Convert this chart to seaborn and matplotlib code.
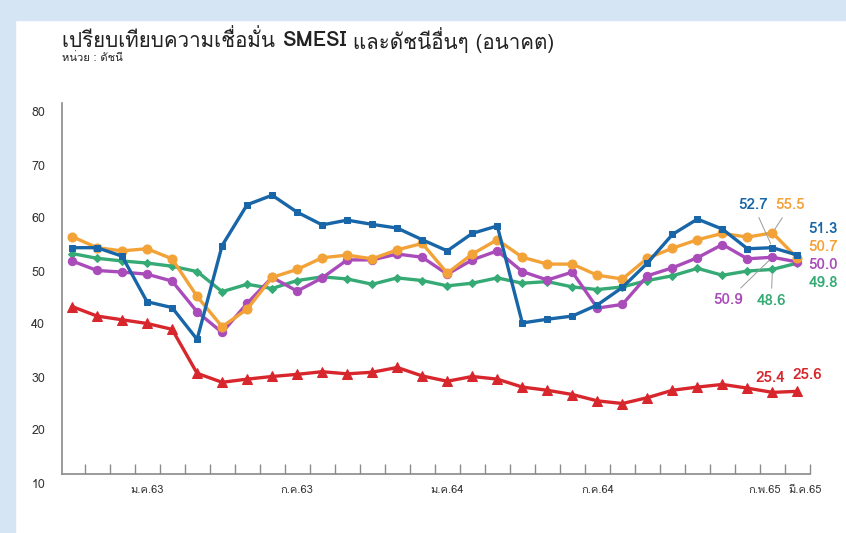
import numpy as np
import pandas as pd
import matplotlib
matplotlib.use("Agg")
import matplotlib.pyplot as plt
import matplotlib.transforms as mtransforms
from matplotlib import font_manager
from matplotlib.ft2font import FT2Font
from matplotlib.patches import Rectangle
import seaborn as sns

# data: Oct 2019 (ต.ค.62) .. Mar 2022 (มี.ค.65), one point per month
months = list(range(30))
smesi = [52.7, 52.7, 51.1, 42.5, 41.4, 35.4, 53.1, 60.8, 62.6, 59.4,
         57.0, 57.9, 57.1, 56.4, 54.2, 52.1, 55.4, 56.8, 38.5, 39.2,
         39.8, 41.9, 45.2, 49.8, 55.2, 58.1, 56.2, 52.5, 52.7, 51.3]
orange_idx = [54.8, 52.7, 52.1, 52.5, 50.6, 43.5, 37.8, 41.1, 47.1, 48.6,
              50.8, 51.3, 50.6, 52.3, 53.5, 47.9, 51.5, 54.2, 50.9, 49.6,
              49.6, 47.5, 46.8, 50.7, 52.6, 54.2, 55.4, 54.7, 55.5, 50.7]
purple_idx = [50.2, 48.4, 48.1, 47.7, 46.4, 40.6, 36.7, 42.2, 47.1, 44.5,
              47.0, 50.4, 50.4, 51.5, 50.9, 47.7, 50.4, 52.1, 48.2, 46.6,
              48.1, 41.3, 42.0, 47.4, 48.9, 50.8, 53.3, 50.6, 50.9, 50.0]
green_idx = [51.6, 50.7, 50.2, 49.8, 49.2, 48.2, 44.4, 45.8, 45.0, 46.5,
             47.2, 46.8, 45.8, 47.0, 46.5, 45.5, 46.0, 47.0, 46.0, 46.3,
             45.3, 44.8, 45.3, 46.5, 47.4, 48.8, 47.5, 48.3, 48.6, 49.8]
red_idx = [41.6, 39.8, 39.1, 38.4, 37.3, 29.0, 27.3, 27.9, 28.4, 28.8,
           29.3, 28.9, 29.2, 30.1, 28.5, 27.5, 28.4, 27.9, 26.4, 25.8,
           25.0, 23.8, 23.3, 24.4, 25.8, 26.4, 26.9, 26.2, 25.4, 25.6]

tick_pos = [3, 9, 15, 21, 28, 29]
tick_labels = ["ม.ค.63", "ก.ค.63", "ม.ค.64", "ก.ค.64", "ก.พ.65", "มี.ค.65"]

COLORS = {
    "blue": "#1866a8",
    "orange": "#f3a238",
    "purple": "#a94cba",
    "green": "#36aa75",
    "red": "#d8262d",
    "frame": "#d6e5f4",
    "text": "#222222",
}


def find_thai_font():
    """first installed font that has Thai glyphs"""
    for f in font_manager.fontManager.ttflist:
        try:
            if FT2Font(f.fname).get_char_index(ord("ก")):
                return f.name
        except Exception:
            pass
    return "DejaVu Sans"


sns.set_theme(style="white")
thai = find_thai_font()
plt.rcParams["font.family"] = [thai, "DejaVu Sans"]

df = pd.DataFrame({"month": months, "smesi": smesi, "orange": orange_idx,
                   "purple": purple_idx, "green": green_idx, "red": red_idx})

fig = plt.figure(figsize=(8.46, 5.33), dpi=100, facecolor="white")
fig.patches.append(Rectangle((0, 1 - 20 / 533), 1, 20 / 533, transform=fig.transFigure,
                             color=COLORS["frame"], zorder=0))
fig.patches.append(Rectangle((0, 0), 15 / 846, 1, transform=fig.transFigure,
                             color=COLORS["frame"], zorder=0))
ax = fig.add_axes([62 / 846, 1 - 474 / 533, (810 - 62) / 846, (474 - 103) / 533])
ax.set_facecolor("none")

series = [
    ("red", "^", 6.5),
    ("green", "D", 4.5),
    ("purple", "o", 6),
    ("orange", "o", 6.5),
    ("smesi", "s", 5),
]
for col, mk, ms in series:
    c = COLORS["blue"] if col == "smesi" else COLORS[col]
    sns.lineplot(data=df, x="month", y=col, color=c, marker=mk, markersize=ms,
                 markeredgecolor=c, linewidth=2.4, ax=ax)

ax.set_xlim(-0.4, 29.5)
ax.set_ylim(10, 80)
ax.set_xlabel("")
ax.set_ylabel("")

for s in ["top", "right"]:
    ax.spines[s].set_visible(False)
for s in ["left", "bottom"]:
    ax.spines[s].set_color("#8a8a8a")
    ax.spines[s].set_linewidth(1.2)

ax.set_yticks(range(10, 81, 10))
ax.tick_params(axis="y", length=0, pad=12, labelsize=9, labelcolor="#333333")
down = mtransforms.ScaledTranslation(0, -9 / 100, fig.dpi_scale_trans)
for lab in ax.get_yticklabels():
    lab.set_transform(lab.get_transform() + down)

ax.set_xticks(tick_pos)
ax.set_xticklabels(tick_labels)
ax.set_xticks(np.arange(0.5, 30, 1), minor=True)
ax.tick_params(axis="x", which="major", length=0, pad=8, labelsize=8, labelcolor="#333333")
ax.tick_params(axis="x", which="minor", direction="in", length=7, width=1, color="#8a8a8a",
               bottom=True)
xl = ax.get_xticklabels()
xl[4].set_transform(xl[4].get_transform() + mtransforms.ScaledTranslation(-8 / 100, 0, fig.dpi_scale_trans))
xl[5].set_transform(xl[5].get_transform() + mtransforms.ScaledTranslation(8 / 100, 0, fig.dpi_scale_trans))

# value labels
lbl = dict(textcoords="offset points", fontsize=11, fontweight="bold", va="center")
lead = dict(arrowstyle="-", color="#9a9a9a", lw=0.7, shrinkA=2, shrinkB=3)
ax.annotate(f"{smesi[29]:.1f}", (29, smesi[29]), xytext=(8, 19), ha="left", color=COLORS["blue"], **lbl)
ax.annotate(f"{orange_idx[29]:.1f}", (29, orange_idx[29]), xytext=(8, 8), ha="left", color=COLORS["orange"], **lbl)
ax.annotate(f"{purple_idx[29]:.1f}", (29, purple_idx[29]), xytext=(8, -2), ha="left", color=COLORS["purple"], **lbl)
ax.annotate(f"{green_idx[29]:.1f}", (29, green_idx[29]), xytext=(8, -14), ha="left", color=COLORS["green"], **lbl)
ax.annotate(f"{smesi[28]:.1f}", (28, smesi[28]), xytext=(-14, 31), ha="center", color=COLORS["blue"],
            arrowprops=lead, **lbl)
ax.annotate(f"{orange_idx[28]:.1f}", (28, orange_idx[28]), xytext=(13, 20), ha="center", color=COLORS["orange"],
            arrowprops=lead, **lbl)
ax.annotate(f"{purple_idx[28]:.1f}", (28, purple_idx[28]), xytext=(-32, -31), ha="center", color=COLORS["purple"],
            arrowprops=lead, **lbl)
ax.annotate(f"{green_idx[28]:.1f}", (28, green_idx[28]), xytext=(-1, -23), ha="center", color=COLORS["green"],
            arrowprops=lead, **lbl)
ax.annotate(f"{red_idx[28]:.1f}", (28, red_idx[28]), xytext=(-1.5, 10), ha="center", color=COLORS["red"], **lbl)
ax.annotate(f"{red_idx[29]:.1f}", (29, red_idx[29]), xytext=(7, 12), ha="center", color=COLORS["red"], **lbl)

# title in three pieces so SMESI can be bold
renderer = fig.canvas.get_renderer()
x0, y0 = 62 / 846, 1 - 40 / 533
t1 = fig.text(x0, y0, "เปรียบเทียบความเชื่อมั่น ", fontsize=14.8, color=COLORS["text"], va="center")
bb = t1.get_window_extent(renderer)
t2 = fig.text(bb.x1 / 846, y0, "SMESI", fontsize=14.8, fontweight="bold", color=COLORS["text"], va="center")
bb = t2.get_window_extent(renderer)
fig.text(bb.x1 / 846, y0, " และดัชนีอื่นๆ (อนาคต)", fontsize=14.8, color=COLORS["text"], va="center")
fig.text(x0, 1 - 58 / 533, "หน่วย : ดัชนี", fontsize=8, color=COLORS["text"], va="center")

fig.savefig("out.png", dpi=100, facecolor="white")
plt.close()
